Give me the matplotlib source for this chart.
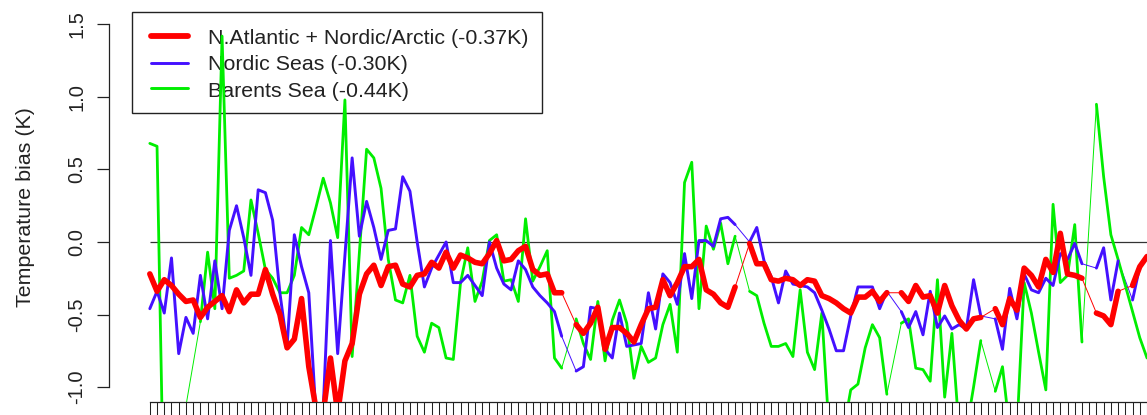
import numpy as np
import matplotlib
matplotlib.use("Agg")
import matplotlib.pyplot as plt
from matplotlib.patches import Rectangle
from matplotlib.lines import Line2D
from matplotlib.transforms import Affine2D

plt.rcParams["font.family"] = ["Liberation Sans", "DejaVu Sans"]

nan = np.nan

# Temperature bias time series (K); NaN marks missing samples
natl_nordic_arctic = [
    -0.22, -0.34, -0.26, -0.30, -0.36, -0.41, -0.40, -0.52, -0.45, -0.41,
    -0.37, -0.48, -0.33, -0.42, -0.36, -0.36, -0.19, -0.36, -0.50, -0.73,
    -0.67, -0.39, -0.86, -1.15, -1.18, -0.80, -1.18, -0.82, -0.70, -0.36,
    -0.22, -0.16, -0.30, -0.17, -0.16, -0.29, -0.31, -0.23, -0.22, -0.14,
    -0.18, -0.07, -0.18, -0.09, -0.11, -0.14, -0.15, -0.08, 0.01, -0.13,
    -0.12, -0.06, -0.03, -0.19, -0.23, -0.22, -0.35, -0.35, nan, -0.57,
    -0.63, -0.56, -0.45, -0.74, -0.59, -0.59, -0.63, -0.69, -0.57, -0.46,
    -0.45, -0.26, -0.37, -0.28, -0.17, -0.17, -0.12, -0.33, -0.36, -0.42,
    -0.45, -0.31, nan, -0.01, -0.15, -0.15, -0.26, -0.27, -0.25, -0.26,
    -0.30, -0.26, -0.27, -0.37, -0.39, -0.42, -0.46, -0.49, -0.38, -0.38,
    -0.34, -0.41, -0.35, nan, -0.35, -0.41, -0.30, -0.38, -0.37, -0.49,
    -0.30, -0.44, -0.54, -0.60, -0.53, -0.52, nan, -0.46, -0.57, -0.39,
    -0.47, -0.18, -0.23, -0.31, -0.12, -0.21, 0.06, -0.22, -0.23, -0.25,
    nan, -0.49, -0.51, -0.57, -0.34, nan, -0.30, -0.17, -0.10,
]

nordic_seas = [
    -0.46, -0.34, -0.49, -0.11, -0.77, -0.52, -0.63, -0.23, -0.53, -0.13,
    -0.46, 0.08, 0.25, 0.03, -0.23, 0.36, 0.34, 0.15, -0.35, -0.72,
    0.05, -0.17, -0.35, -1.20, -1.15, 0.01, -0.77, -0.10, 0.58, 0.04,
    0.28, 0.10, -0.12, 0.08, 0.09, 0.45, 0.35, 0.00, -0.31, -0.18,
    -0.09, 0.00, -0.28, -0.28, -0.23, -0.30, -0.37, 0.00, -0.18, -0.29,
    -0.33, -0.13, -0.19, -0.31, -0.37, -0.42, -0.48, -0.65, nan, -0.89,
    -0.86, -0.45, -0.46, -0.74, -0.80, -0.49, -0.72, -0.71, -0.70, -0.35,
    -0.60, -0.22, -0.28, -0.43, -0.08, -0.39, 0.01, 0.01, -0.03, 0.16,
    0.17, 0.12, nan, 0.00, 0.10, -0.13, -0.24, -0.42, -0.20, -0.29,
    -0.30, -0.31, -0.35, -0.47, -0.60, -0.75, -0.75, -0.51, -0.31, -0.31,
    -0.31, -0.46, -0.34, nan, -0.48, -0.59, -0.48, -0.64, -0.34, -0.59,
    -0.51, -0.60, -0.57, -0.60, -0.26, -0.51, nan, -0.53, -0.74, -0.32,
    -0.53, -0.22, -0.33, -0.35, -0.25, -0.30, -0.08, -0.12, -0.01, -0.15,
    nan, -0.18, -0.04, -0.40, -0.13, nan, -0.40, -0.17, -0.10,
]

barents_sea = [
    0.68, 0.66, -2.00, nan, nan, nan, nan, -0.55, -0.07, -0.46,
    1.42, -0.25, -0.23, -0.20, 0.29, 0.06, -0.19, -0.25, -0.35, -0.35,
    -0.23, 0.10, 0.05, 0.24, 0.44, 0.27, 0.03, 0.98, -0.79, -0.08,
    0.64, 0.58, 0.37, -0.12, -0.40, -0.42, -0.23, -0.65, -0.76, -0.56,
    -0.59, -0.80, -0.81, -0.28, -0.04, -0.41, -0.27, 0.01, 0.05, -0.27,
    -0.26, -0.41, 0.16, -0.27, -0.17, -0.06, -0.80, -0.87, nan, -0.53,
    -0.70, -0.81, -0.41, -0.82, -0.54, -0.40, -0.56, -0.94, -0.72, -0.83,
    -0.80, -0.57, -0.43, -0.76, 0.41, 0.55, -0.46, 0.11, -0.05, 0.13,
    -0.15, 0.04, nan, -0.34, -0.37, -0.56, -0.72, -0.72, -0.70, -0.79,
    -0.33, -0.76, -0.88, -0.49, -1.30, -1.30, -1.30, -1.02, -0.98, -0.73,
    -0.57, -0.66, -1.05, nan, -0.56, -0.53, -0.87, -0.88, -0.96, -0.26,
    -1.07, -0.63, -1.30, -1.30, -1.00, -0.68, nan, -1.03, -0.86, -1.30,
    -1.30, -0.28, -0.49, -0.76, -1.02, 0.26, -0.28, -0.23, 0.12, -0.69,
    nan, 0.95, 0.45, 0.05, -0.12, -0.30, -0.48, -0.66, -0.80,
]

series_labels = [
    "N.Atlantic + Nordic/Arctic (-0.37K)",
    "Nordic Seas (-0.30K)",
    "Barents Sea (-0.44K)",
]
series_colors = ["#FF0000", "#4410FF", "#00EE00"]
y_ticks = [-1.0, -0.5, 0.0, 0.5, 1.0, 1.5]
y_tick_labels = ["-1.0", "-0.5", "0.0", "0.5", "1.0", "1.5"]
y_label = "Temperature bias (K)"

# ---- figure geometry (pixels) ----
W, H = 1147, 415
fig = plt.figure(figsize=(W / 100, H / 100), dpi=100)
fig.patch.set_facecolor("white")

x0_px, dx_px = 150.0, 7.26      # first sample position, sample spacing
zero_py, unit_py = 242.0, 145.0  # y pixel of 0 K, pixels per K
left_px, bottom_py = 109.0, 402.0

ax = fig.add_axes([left_px / W, (H - bottom_py) / H, (W - left_px) / W, bottom_py / H])
ax.set_xlim((left_px - x0_px) / dx_px, (W - x0_px) / dx_px)
ax.set_ylim((zero_py - bottom_py) / unit_py, zero_py / unit_py)
ax.patch.set_alpha(0)

n = len(natl_nordic_arctic)
idx = np.arange(n)
axis_col = "#222222"

# zero reference
ax.hlines(0, 0, n - 1, color="#333333", lw=0.9, zorder=2)

# series: thin line bridging gaps, thick line with gaps
series = [
    (barents_sea, series_colors[2], 2.0),
    (nordic_seas, series_colors[1], 2.1),
    (natl_nordic_arctic, series_colors[0], 4.0),
]
for vals, col, lw in series:
    v = np.asarray(vals, dtype=float)
    ok = ~np.isnan(v)
    ax.plot(idx[ok], v[ok], color=col, lw=0.7, zorder=3,
            solid_joinstyle="round", solid_capstyle="round")
for vals, col, lw in series:
    v = np.asarray(vals, dtype=float)
    ax.plot(idx, v, color=col, lw=lw, zorder=4,
            solid_joinstyle="round", solid_capstyle="round")

# axes styling
for s in ("top", "right"):
    ax.spines[s].set_visible(False)
ax.spines["left"].set_bounds(-1.0, 1.5)
ax.spines["left"].set_color(axis_col)
ax.spines["left"].set_linewidth(0.9)
ax.spines["bottom"].set_bounds(0, n - 1)
ax.spines["bottom"].set_color(axis_col)
ax.spines["bottom"].set_linewidth(0.9)

ax.set_yticks(y_ticks)
ax.set_yticklabels(y_tick_labels, rotation=90, va="center", fontsize=14.5,
                   color=axis_col)
ax.tick_params(axis="y", length=8.6, width=0.9, pad=7.8, color=axis_col)
ax.set_xticks(idx)
ax.set_xticklabels([])
ax.tick_params(axis="x", length=12, width=0.75, color=axis_col)

fig.text(26 / W, 1 - 207 / H, y_label, rotation=90, ha="center", va="center",
         fontsize=15.4, color=axis_col)

# legend drawn in pixel coordinates beneath the data lines
px = Affine2D().scale(1 / W, -1 / H).translate(0, 1) + fig.transFigure
ax.add_patch(Rectangle((131.7, 11.7), 410.0, 101.6, transform=px, fill=False,
                       ec=axis_col, lw=1.0, zorder=1, clip_on=False))
row_line_y = [36.5, 62.7, 88.3]
row_text_y = [44.3, 70.2, 96.5]
legend_lw = [4.2, 2.1, 2.1]
for k, lab in enumerate(series_labels):
    ax.add_line(Line2D([150.5, 187.5], [row_line_y[k]] * 2, transform=px,
                       color=series_colors[k], lw=legend_lw[k],
                       solid_capstyle="round", zorder=1, clip_on=False))
    ax.text(208, row_text_y[k], lab, transform=px, ha="left", va="baseline",
            fontsize=15.4, color=axis_col, zorder=1, clip_on=False)

fig.savefig("out.png", dpi=100)
